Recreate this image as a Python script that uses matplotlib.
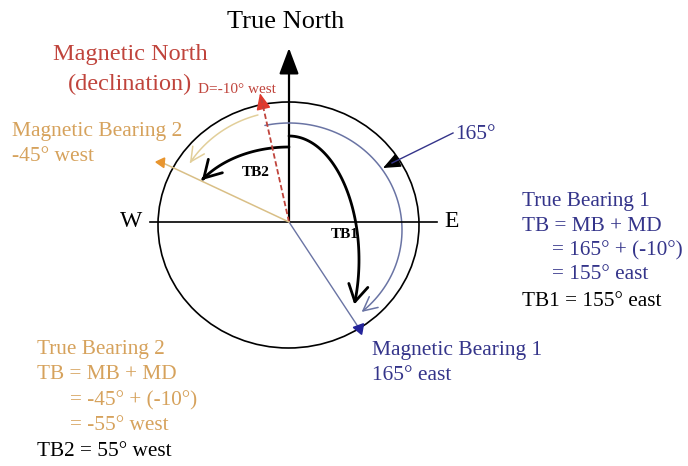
import numpy as np
import matplotlib.pyplot as plt
from matplotlib.patches import Ellipse, FancyArrowPatch
from matplotlib.path import Path

plt.rcParams['font.family'] = ['Liberation Serif', 'DejaVu Serif']

# bearings used in the worked example (degrees)
declination = -10
mag_bearings = [165, -45]
true_bearings = [155, -55]

# directions of the lines as drawn in the sketch (degrees from true north, clockwise)
drawn_dir = {'mn': -12.7, 'mb1': 146.6, 'mb2': -64.9}
drawn_len = {'mn': 132, 'mb1': 127, 'mb2': 141}

RED = '#c0443c'
TAN = '#d6a25c'
BLUE = '#34348a'
ORANGE = '#e8952e'

cx, cy = 289, 222


def tip(key):
    a = np.radians(drawn_dir[key])
    r = drawn_len[key]
    return cx + r * np.sin(a), cy - r * np.cos(a)


def arc(ox, oy, rx, ry, t0, t1, n=80):
    t = np.radians(np.linspace(t0, t1, n))
    return np.column_stack([ox + rx * np.sin(t), oy - ry * np.cos(t)])


fig = plt.figure(figsize=(6.88, 4.66), dpi=100)
ax = fig.add_axes([0, 0, 1, 1])
ax.set_xlim(0, 688)
ax.set_ylim(466, 0)
ax.axis('off')

# compass circle and axes
ax.add_patch(Ellipse((288.5, 225), 261, 246, fill=False, lw=1.2, ec='black'))
ax.plot([150, 437], [cy, cy], color='black', lw=1.2)
ax.add_patch(FancyArrowPatch((cx, cy), (cx, 48), arrowstyle='-|>,head_length=0.8,head_width=0.3',
                             mutation_scale=20, lw=1.6, color='black', shrinkA=0, shrinkB=0))

# magnetic north (dashed red)
mx, my = tip('mn')
ax.plot([cx, mx + 1.5], [cy, my + 6], color=RED, lw=1.3, ls=(0, (3, 1.5)))
ax.add_patch(FancyArrowPatch((mx + 2.5, my + 11), (mx, my), arrowstyle='-|>,head_length=0.5,head_width=0.22',
                             mutation_scale=20, lw=1, color='#e03a2e', shrinkA=0, shrinkB=0))

# magnetic bearing lines
bx, by = tip('mb1')
ax.plot([cx, bx], [cy, by], color='#6a74a4', lw=1)
ax.plot(bx, by, marker=(3, 0, 80), ms=9, color='#24249a')
wx, wy = tip('mb2')
ax.plot([cx, wx], [cy, wy], color='#d9bf86', lw=1.1)
ax.plot(wx, wy, marker=(3, 0, 205), ms=8, color=ORANGE)

# 165 degree magnetic arc (blue)
ax.add_patch(FancyArrowPatch(path=Path(arc(289, 230, 113, 107, -12.3, 140)),
                             arrowstyle='->,head_length=0.5,head_width=0.25', mutation_scale=20,
                             lw=1.1, color='#6a74a4'))
# -45 degree magnetic arc (tan)
ax.add_patch(FancyArrowPatch(path=Path(arc(289, 222, 117, 111, -15.4, -57.9)),
                             arrowstyle='->,head_length=0.5,head_width=0.25', mutation_scale=20,
                             lw=1.1, color='#e2cf9a'))
# true bearing arcs (black)
ax.add_patch(FancyArrowPatch(path=Path(arc(289, 260, 70, 124, 0, 111)),
                             arrowstyle='->,head_length=0.6,head_width=0.35', mutation_scale=20,
                             lw=2, color='black'))
ax.add_patch(FancyArrowPatch(path=Path(arc(289, 222, 105, 75, 0, -56)),
                             arrowstyle='->,head_length=0.6,head_width=0.35', mutation_scale=20,
                             lw=2, color='black'))

# 165 pointer
ax.plot([453, 392], [133, 163], color=BLUE, lw=1)
ax.add_patch(FancyArrowPatch((395, 162), (383, 168), arrowstyle='-|>,head_length=0.6,head_width=0.25',
                             mutation_scale=18, lw=1, color='black', shrinkA=0, shrinkB=0))

# labels
ax.text(286, 28, 'True North', fontsize=19, ha='center', va='baseline')
ax.text(131, 227, 'W', fontsize=17, ha='center', va='baseline')
ax.text(452, 227, 'E', fontsize=17, ha='center', va='baseline')
ax.text(53, 60, 'Magnetic North', fontsize=17.5, color=RED, va='baseline')
ax.text(68, 90, '(declination)', fontsize=17.5, color=RED, va='baseline')
ax.text(198, 93, f'D={declination}° west', fontsize=11, color=RED, va='baseline')
ax.text(12, 136, 'Magnetic Bearing 2', fontsize=15.5, color=TAN, va='baseline')
ax.text(12, 161, f'{mag_bearings[1]}° west', fontsize=15.5, color=TAN, va='baseline')
ax.text(256, 173, 'TB2', fontsize=11, fontweight='bold', ha='center', va='center')
ax.text(345, 234, 'TB1', fontsize=11, fontweight='bold', ha='center', va='center')
ax.text(455, 139, f'{mag_bearings[0]}°', fontsize=15.5, color=BLUE, va='baseline')

ax.text(372, 355, 'Magnetic Bearing 1', fontsize=15.5, color=BLUE, va='baseline')
ax.text(372, 380, f'{mag_bearings[0]}° east', fontsize=15.5, color=BLUE, va='baseline')

right = [('True Bearing 1', 522, BLUE, 206),
         ('TB = MB + MD', 522, BLUE, 231),
         (f'= {mag_bearings[0]}° + ({declination}°)', 552, BLUE, 255),
         (f'= {true_bearings[0]}° east', 552, BLUE, 279),
         (f'TB1 = {true_bearings[0]}° east', 522, 'black', 306)]
for s, x, c, y in right:
    ax.text(x, y, s, fontsize=15.3, color=c, va='baseline')

left = [('True Bearing 2', 37, TAN, 354),
        ('TB = MB + MD', 37, TAN, 379),
        (f'= {mag_bearings[1]}° + ({declination}°)', 70, TAN, 405),
        (f'= {true_bearings[1]}° west', 70, TAN, 430),
        (f'TB2 = {abs(true_bearings[1])}° west', 37, 'black', 456)]
for s, x, c, y in left:
    ax.text(x, y, s, fontsize=15.3, color=c, va='baseline')

fig.savefig('out.png', dpi=100)
